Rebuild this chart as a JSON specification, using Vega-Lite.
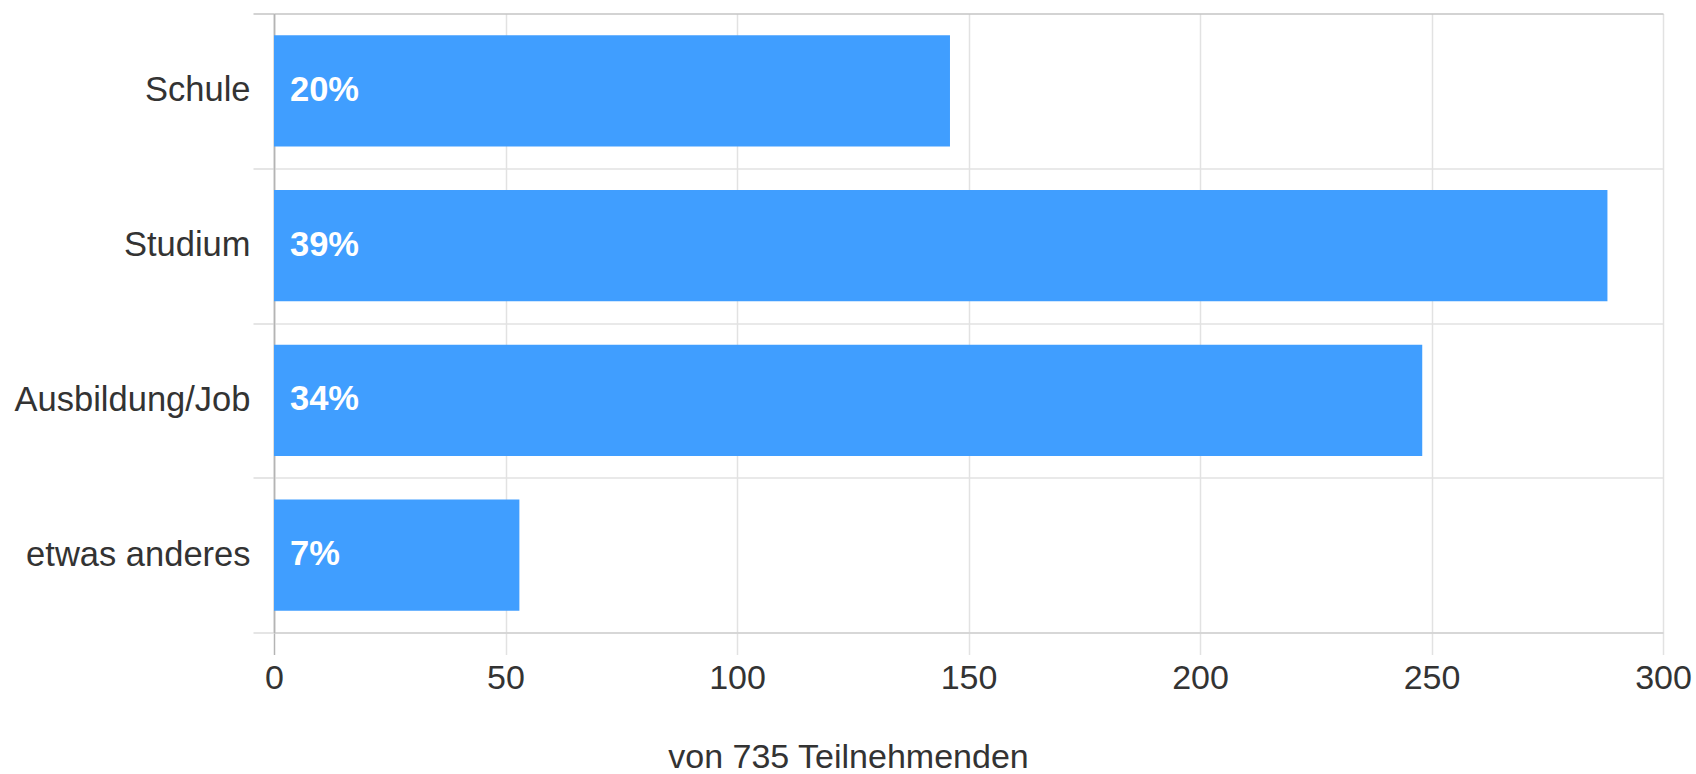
{
  "$schema": "https://vega.github.io/schema/vega-lite/v6.json",
  "autosize": {"type": "none"},
  "padding": {"left": 274, "top": 13.5, "right": 33, "bottom": 141.5},
  "width": 1389,
  "height": 619,
  "background": "white",
  "config": {
    "view": {"stroke": null},
    "font": "Liberation Sans"
  },
  "data": {
    "values": [
      {"kategorie": "Schule", "anzahl": 146, "anteil": "20%"},
      {"kategorie": "Studium", "anzahl": 288, "anteil": "39%"},
      {"kategorie": "Ausbildung/Job", "anzahl": 248, "anteil": "34%"},
      {"kategorie": "etwas anderes", "anzahl": 53, "anteil": "7%"}
    ]
  },
  "encoding": {
    "y": {
      "field": "kategorie",
      "type": "nominal",
      "sort": null,
      "scale": {"paddingInner": 0, "paddingOuter": 0},
      "axis": {
        "title": null,
        "tickBand": "extent",
        "grid": true,
        "gridColor": {"condition": {"test": "datum.extra", "value": "#c4c4c4"}, "value": "#e2e2e2"},
        "gridWidth": 1.5,
        "tickColor": {"condition": {"test": "datum.extra", "value": "#c4c4c4"}, "value": "#dcdcdc"},
        "tickWidth": 1.5,
        "tickSize": 21,
        "domainColor": "#b4b4b4",
        "domainWidth": 1.5,
        "labelFontSize": 34.5,
        "labelColor": "#333333",
        "labelPadding": 3,
        "labelLimit": 0,
        "labelFont": "Liberation Sans"
      }
    }
  },
  "layer": [
    {
      "mark": {"type": "bar", "color": "#409eff", "height": {"band": 0.72}},
      "encoding": {
        "x": {
          "field": "anzahl",
          "type": "quantitative",
          "scale": {"domain": [0, 300], "nice": false},
          "axis": {
            "values": [0, 50, 100, 150, 200, 250, 300],
            "labelFlush": false,
            "grid": true,
            "gridColor": {"condition": {"test": "datum.value === 0", "value": "#b4b4b4"}, "value": "#e2e2e2"},
            "gridWidth": 1.5,
            "tickColor": {"condition": {"test": "datum.value === 0", "value": "#b4b4b4"}, "value": "#e2e2e2"},
            "tickWidth": 1.5,
            "tickSize": 22,
            "domainColor": "#d0d0d0",
            "domainWidth": 1.5,
            "labelFontSize": 34,
            "labelColor": "#333333",
            "labelPadding": 7,
            "labelFont": "Liberation Sans",
            "title": "von 735 Teilnehmenden",
            "titleFont": "Liberation Sans",
            "titleFontSize": 34,
            "titleFontWeight": "normal",
            "titleColor": "#333333",
            "titleX": 574,
            "titleY": 125,
            "titleAlign": "center",
            "titleBaseline": "middle"
          }
        }
      }
    },
    {
      "mark": {
        "type": "text",
        "align": "left",
        "baseline": "middle",
        "dx": 16,
        "fontSize": 34.5,
        "fontWeight": "bold",
        "color": "white",
        "font": "Liberation Sans"
      },
      "encoding": {
        "x": {"datum": 0},
        "text": {"field": "anteil"}
      }
    }
  ]
}
